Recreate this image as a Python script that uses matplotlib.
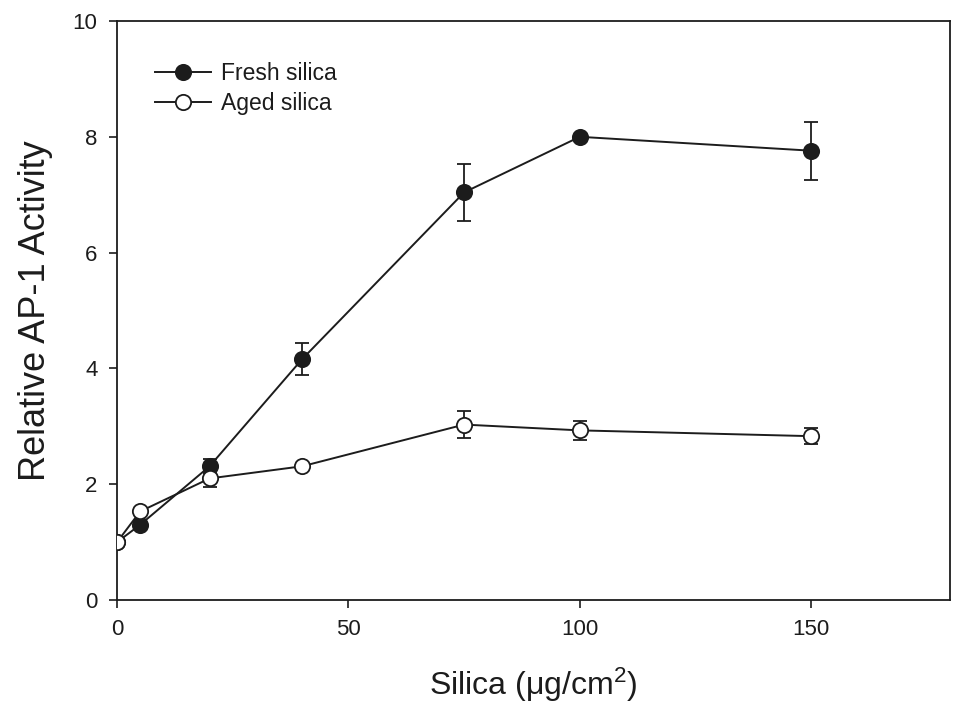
import matplotlib
matplotlib.use("Agg")
import matplotlib.pyplot as plt

plt.rcParams['font.family'] = ['Liberation Sans', 'DejaVu Sans']
plt.rcParams['mathtext.fontset'] = 'custom'
plt.rcParams['mathtext.rm'] = 'Liberation Sans'
plt.rcParams['mathtext.it'] = 'Liberation Sans'

silica = [0, 5, 20, 40, 75, 100, 150]
fresh = [1.0, 1.30, 2.31, 4.16, 7.04, 8.0, 7.76]
fresh_err = [0.0, 0.05, 0.12, 0.28, 0.49, 0.0, 0.50]
aged = [1.0, 1.53, 2.10, 2.31, 3.03, 2.93, 2.83]
aged_err = [0.0, 0.0, 0.14, 0.0, 0.23, 0.17, 0.14]

xticks = [0, 50, 100, 150]
yticks = [0, 2, 4, 6, 8, 10]

c = '#1c1c1c'
fig = plt.figure(figsize=(9.57, 7.07), dpi=100)
ax = fig.add_axes([0.1223, 0.1513, 0.8704, 0.819])

ax.errorbar(silica, fresh, yerr=fresh_err, color=c, marker='o', markersize=11,
            markerfacecolor=c, markeredgecolor=c, markeredgewidth=1.3, linewidth=1.4,
            capsize=4.8, capthick=1.3, elinewidth=1.3, label='Fresh silica', zorder=3)
ax.errorbar(silica, aged, yerr=aged_err, color=c, marker='o', markersize=11,
            markerfacecolor='white', markeredgecolor=c, markeredgewidth=1.3, linewidth=1.4,
            capsize=4.8, capthick=1.3, elinewidth=1.3, label='Aged silica', zorder=4)

ax.set_xlim(0, 180)
ax.set_ylim(0, 10)
ax.set_xticks(xticks)
ax.set_yticks(yticks)
ax.tick_params(direction='out', length=6, width=1.2, labelsize=16, colors=c, pad=8)
for s in ax.spines.values():
    s.set_linewidth(1.3)
    s.set_color(c)

ax.set_xlabel(r'Silica ($\mu$g/cm$^2$)', fontsize=23, color=c, labelpad=18)
ax.set_ylabel('Relative AP-1 Activity', fontsize=26, color=c, labelpad=14)

h, l = ax.get_legend_handles_labels()
h = [x[0] for x in h]
leg = ax.legend(h, l, loc='upper left', bbox_to_anchor=(0.045, 0.929), frameon=False,
                fontsize=16.5, handlelength=2.45, handletextpad=0.45, labelspacing=0.3,
                borderpad=0, borderaxespad=0)
for t in leg.get_texts():
    t.set_color(c)

fig.savefig('out.png', dpi=100)
